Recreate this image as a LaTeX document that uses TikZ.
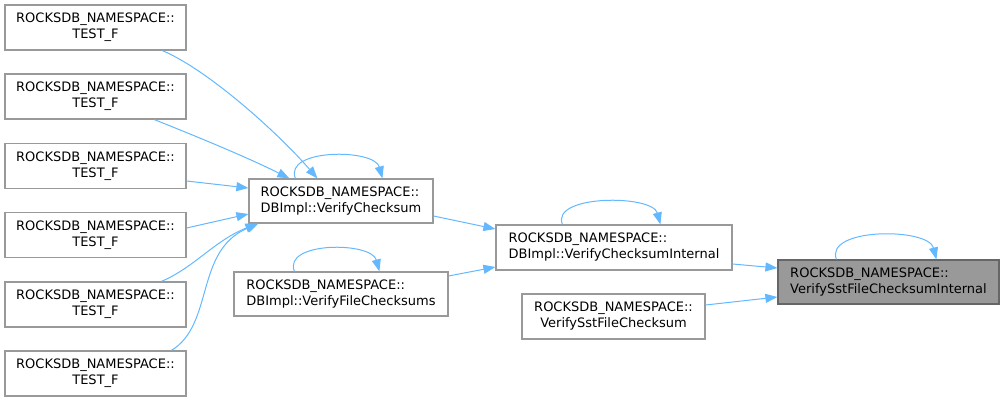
\documentclass[tikz,border=0pt]{standalone}
\usepackage{fontspec}
\setmainfont{DejaVu Sans}
\usetikzlibrary{arrows.meta,calc}
\definecolor{edgeblue}{HTML}{63B8FF}
\definecolor{nodeborder}{HTML}{999999}
\definecolor{hlfill}{HTML}{999999}
\definecolor{hlborder}{HTML}{666666}
\begin{document}
\begin{tikzpicture}[x=1pt,y=-1pt,
  box/.style={draw=nodeborder, fill=white, line width=1.2pt, inner sep=0pt,
    font=\fontsize{13}{16}\selectfont, align=left},
  hlbox/.style={box, draw=hlborder, fill=hlfill},
  edge/.style={draw=edgeblue, line width=1pt, -{Triangle[length=12pt,width=9pt]}}]
\useasboundingbox (0,0) rectangle (1004,402);
% left column
\node[box, align=center, minimum width=181pt, minimum height=45pt] (t1) at (95.5,27.5) {ROCKSDB\_NAMESPACE::\\TEST\_F};
\node[box, align=center, minimum width=181pt, minimum height=45pt] (t2) at (95.5,96.5) {ROCKSDB\_NAMESPACE::\\TEST\_F};
\node[box, align=center, minimum width=181pt, minimum height=45pt] (t3) at (95.5,166) {ROCKSDB\_NAMESPACE::\\TEST\_F};
\node[box, align=center, minimum width=181pt, minimum height=45pt] (t4) at (95.5,235) {ROCKSDB\_NAMESPACE::\\TEST\_F};
\node[box, align=center, minimum width=181pt, minimum height=45pt] (t5) at (95.5,304.5) {ROCKSDB\_NAMESPACE::\\TEST\_F};
\node[box, align=center, minimum width=181pt, minimum height=45pt] (t6) at (95.5,373.5) {ROCKSDB\_NAMESPACE::\\TEST\_F};
% middle
\node[box, minimum width=184pt, minimum height=44pt] (vc) at (341,201) {ROCKSDB\_NAMESPACE::\\DBImpl::VerifyChecksum};
\node[box, minimum width=214pt, minimum height=44pt] (vfc) at (341,294) {ROCKSDB\_NAMESPACE::\\DBImpl::VerifyFileChecksums};
\node[box, minimum width=236pt, minimum height=45pt] (vci) at (614,247.5) {ROCKSDB\_NAMESPACE::\\DBImpl::VerifyChecksumInternal};
\node[box, align=center, minimum width=183pt, minimum height=45pt] (vsfc) at (613.5,316.5) {ROCKSDB\_NAMESPACE::\\VerifySstFileChecksum};
\node[hlbox, minimum width=221pt, minimum height=44pt] (vsfci) at (888.5,282) {ROCKSDB\_NAMESPACE::\\VerifySstFileChecksumInternal};
% edges into VerifyChecksum
\draw[edge] ($(t1.south west)+(158,0)$) .. controls +(47,20) and +(-38,-44) .. ($(vc.north west)+(69,0)$);
\draw[edge] ($(t2.south west)+(150,0)$) .. controls +(50,20) and +(-40,-20) .. ($(vc.north west)+(41,0)$);
\draw[edge] ($(t3.east)+(0,15)$) -- ($(vc.west)+(0,-13)$);
\draw[edge] ($(t4.east)+(0,-7)$) -- ($(vc.west)+(0,13)$);
\draw[edge] ($(t5.north west)+(157,0)$) .. controls +(33,-14) and +(-43,17) .. ($(vc.south west)+(9,0)$);
\draw[edge] ($(t6.north west)+(167,0)$) .. controls +(43,-26) and +(-64,27) .. ($(vc.south west)+(10,0)$);
% self loops
\draw[edge] ($(vc.north west)+(47,0)$) .. controls +(-12,-30) and +(-8,-30) .. ($(vc.north west)+(134,0)$);
\draw[edge] ($(vfc.north west)+(61,0)$) .. controls +(-12,-30) and +(-8,-30) .. ($(vfc.north west)+(146,0)$);
\draw[edge] ($(vci.north west)+(67,0)$) .. controls +(-12,-30) and +(-8,-30) .. ($(vci.north west)+(165,0)$);
\draw[edge] ($(vsfci.north west)+(59,0)$) .. controls +(-12,-32) and +(-8,-32) .. ($(vsfci.north west)+(159,0)$);
% to VerifyChecksumInternal
\draw[edge] ($(vc.east)+(0,15)$) -- ($(vci.west)+(0,-18.5)$);
\draw[edge] ($(vfc.east)+(0,-18)$) -- ($(vci.west)+(0,19.5)$);
% to VerifySstFileChecksumInternal
\draw[edge] ($(vci.east)+(0,16.5)$) -- ($(vsfci.west)+(0,-14)$);
\draw[edge] ($(vsfc.east)+(0,-11.5)$) -- ($(vsfci.west)+(0,15)$);
\end{tikzpicture}
\end{document}
